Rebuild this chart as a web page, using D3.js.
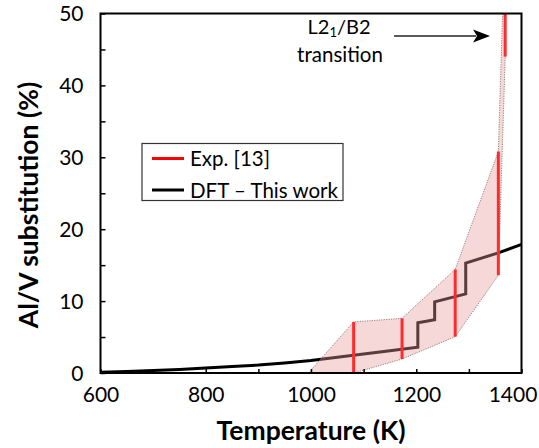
<!DOCTYPE html>
<html>
<head>
<meta charset="utf-8">
<script src="https://cdn.jsdelivr.net/npm/d3@7"></script>
<style>
  html, body { margin: 0; padding: 0; background: #fff; }
  svg { display: block; }
  text { font-family: Lato, "Open Sans", sans-serif; fill: #000; }
</style>
</head>
<body>
<svg id="chart" width="539" height="448"></svg>
<script>
// ---- data ----
const xTicks = [600, 700, 800, 900, 1000, 1100, 1200, 1300, 1400];
const xTickLabels = [600, 800, 1000, 1200, 1400];
const yTicks = [0, 5, 10, 15, 20, 25, 30, 35, 40, 45, 50];
const yTickLabels = [0, 10, 20, 30, 40, 50];

// DFT (this work) curve, including the stepped part
const dftT = [600, 650, 700, 750, 800, 850, 900, 950, 1000, 1050, 1100, 1150, 1203, 1203, 1235, 1235, 1294, 1294, 1356, 1400];
const dftV = [0.1, 0.2, 0.35, 0.5, 0.7, 0.9, 1.1, 1.4, 1.75, 2.2, 2.65, 3.1, 3.6, 7.0, 7.4, 9.9, 11.0, 15.3, 16.7, 17.9];

// Experimental ranges [13]
const expT = [1081, 1173, 1274, 1356, 1369];
const expLow = [0, 1.95, 5.05, 13.6, 44.0];
const expHigh = [7.1, 7.6, 14.4, 30.8, 50];

// shaded band
const bandUpperT = [995, 1081, 1173, 1274, 1356, 1364, 1369];
const bandUpperV = [0, 7.1, 7.6, 14.4, 30.8, 50, 50];
const bandLowerT = [1369, 1356, 1274, 1173, 1081];
const bandLowerV = [44, 13.6, 5.05, 1.95, 0];

const legendLabels = ["Exp. [13]", "DFT \u2013 This work"];
const xTitle = "Temperature (K)";
const yTitle = "Al/V substitution (%)";

// ---- drawing ----
const svg = d3.select("#chart");
const L = 100.5, R = 521.5, T = 13.5, B = 373;
const x = d3.scaleLinear().domain([600, 1400]).range([L, R]);
const y = d3.scaleLinear().domain([0, 50]).range([B, T]);

// DFT line (drawn under the band)
const dftData = dftT.map((t, i) => [t, dftV[i]]);
svg.append("path")
  .datum(dftData)
  .attr("d", d3.line().x(d => x(d[0])).y(d => y(d[1])))
  .attr("fill", "none")
  .attr("stroke", "#000")
  .attr("stroke-width", 3)
  .attr("stroke-linejoin", "miter");

// band polygon
const bandPts = bandUpperT.map((t, i) => [t, bandUpperV[i]])
  .concat(bandLowerT.map((t, i) => [t, bandLowerV[i]]));
svg.append("path")
  .datum(bandPts)
  .attr("d", d3.line().x(d => x(d[0])).y(d => y(d[1])).curve(d3.curveLinearClosed))
  .attr("fill", "rgb(232,155,155)")
  .attr("fill-opacity", 0.39)
  .attr("stroke", "#9a8080")
  .attr("stroke-width", 1)
  .attr("stroke-dasharray", "1.2,1.2");

// exp bars
svg.append("g").selectAll("line")
  .data(expT.map((t, i) => ({ t, lo: expLow[i], hi: expHigh[i] })))
  .join("line")
  .attr("x1", d => x(d.t)).attr("x2", d => x(d.t))
  .attr("y1", d => y(d.lo)).attr("y2", d => y(d.hi))
  .attr("stroke", "#ff2b2b")
  .attr("stroke-width", 3);

// axes
const xAxis = d3.axisBottom(x).tickValues(xTicks).tickSizeInner(-4).tickSizeOuter(0)
  .tickFormat(d => xTickLabels.includes(d) ? d : "");
const gx = svg.append("g").attr("transform", `translate(0,${B})`).call(xAxis);
gx.select(".domain").remove();
gx.selectAll(".tick line").attr("stroke", "#000").attr("stroke-width", 1.5);
gx.selectAll(".tick text").attr("y", 28.5).attr("dy", 0).attr("font-size", 21)
  .attr("font-family", "Lato, 'Open Sans', sans-serif").attr("fill", "#000")
  .attr("dx", d => d === 1400 ? -9 : 0);

const yAxis = d3.axisLeft(y).tickValues(yTicks).tickSizeInner(-5).tickSizeOuter(0)
  .tickFormat(d => yTickLabels.includes(d) ? d : "");
const gy = svg.append("g").attr("transform", `translate(${L},0)`).call(yAxis);
gy.select(".domain").remove();
gy.selectAll(".tick line").attr("stroke", "#000").attr("stroke-width", 1.5);
gy.selectAll(".tick text").attr("x", -17).attr("dy", "0.35em").attr("font-size", 21)
  .attr("font-family", "Lato, 'Open Sans', sans-serif").attr("fill", "#000");

// plot frame
svg.append("rect")
  .attr("x", L).attr("y", T).attr("width", R - L).attr("height", B - T)
  .attr("fill", "none").attr("stroke", "#000").attr("stroke-width", 2);

// axis titles
svg.append("text")
  .attr("x", 311).attr("y", 440)
  .attr("text-anchor", "middle")
  .attr("font-size", 26.5).attr("font-weight", "bold")
  .text(xTitle);
svg.append("text")
  .attr("transform", "translate(38,205) rotate(-90)")
  .attr("text-anchor", "middle")
  .attr("font-size", 26.5).attr("font-weight", "bold")
  .text(yTitle);

// legend
const lg = svg.append("g");
lg.append("rect").attr("x", 142).attr("y", 143.5).attr("width", 201).attr("height", 57)
  .attr("fill", "#fff").attr("stroke", "#333").attr("stroke-width", 1.2);
const legendColors = ["#ff0000", "#000"];
const legendY = [158.5, 190];
legendLabels.forEach((lab, i) => {
  lg.append("line").attr("x1", 152).attr("x2", 184).attr("y1", legendY[i]).attr("y2", legendY[i])
    .attr("stroke", legendColors[i]).attr("stroke-width", 3);
  lg.append("text").attr("x", 190).attr("y", legendY[i] + 7.5)
    .attr("font-size", 20.5).text(lab);
});

// annotation
const ann = svg.append("text").attr("x", 339).attr("y", 34).attr("text-anchor", "middle").attr("font-size", 20);
ann.append("tspan").text("L2");
ann.append("tspan").attr("font-size", 13).attr("dy", 3).text("1");
ann.append("tspan").attr("dy", -3).text("/B2");
svg.append("text").attr("x", 340).attr("y", 61.5).attr("text-anchor", "middle").attr("font-size", 20.5).text("transition");

// arrow
svg.append("line").attr("x1", 394).attr("x2", 476).attr("y1", 36).attr("y2", 36)
  .attr("stroke", "#222").attr("stroke-width", 1.5);
svg.append("path")
  .attr("d", "M490,36 L473,29.5 L477,36 L473,42.5 Z")
  .attr("fill", "#000");
</script>
</body>
</html>
